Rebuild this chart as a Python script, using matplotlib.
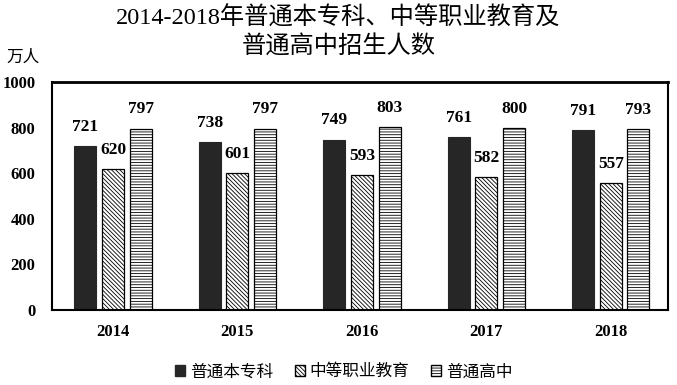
import numpy as np
import matplotlib.pyplot as plt
from matplotlib.patches import Patch

years = ["2014", "2015", "2016", "2017", "2018"]
undergrad = [721, 738, 749, 761, 791]
vocational = [620, 601, 593, 582, 557]
high_school = [797, 797, 803, 800, 793]
series_names = ["普通本专科", "中等职业教育", "普通高中"]
y_ticks = [0, 200, 400, 600, 800, 1000]

cjk = ["Noto Sans CJK SC", "DejaVu Sans"]
serif = ["Liberation Serif", "Noto Sans CJK SC"]
plt.rcParams["hatch.linewidth"] = 0.6

fig = plt.figure(figsize=(6.77, 3.85), dpi=100)
ax = fig.add_axes([0.0768, 0.195, 0.91, 0.591])

x = np.arange(len(years))
w = 0.177
step = 0.222
diag = "\\" * 8
horiz = "-" * 6

b1 = ax.bar(x - step, undergrad, w, color="#262626", edgecolor="#262626", linewidth=0.8)
b2 = ax.bar(x, vocational, w, color="white", edgecolor="black", linewidth=0.9, hatch=diag)
b3 = ax.bar(x + step, high_school, w, color="white", edgecolor="black", linewidth=0.9, hatch=horiz)

for bars, vals in [(b1, undergrad), (b2, vocational), (b3, high_school)]:
    for rect, v in zip(bars, vals):
        ax.annotate(str(v), (rect.get_x() + rect.get_width() / 2, rect.get_height()),
                    xytext=(0, 8), textcoords="offset points", ha="center", va="bottom",
                    fontsize=12.5, fontweight="bold", family=serif)

ax.set_xlim(-0.49, 4.46)
ax.set_ylim(0, 1000)
ax.set_yticks(y_ticks)
ax.set_yticklabels([str(t) for t in y_ticks], fontsize=12, fontweight="bold", family=serif)
ax.set_xticks(x)
ax.set_xticklabels(years, fontsize=12, fontweight="bold", family=serif)
ax.tick_params(axis="y", length=0, pad=12)
ax.tick_params(axis="x", length=0, pad=10)
for s in ax.spines.values():
    s.set_linewidth(1.5)
ax.spines["top"].set_linewidth(2)

fig.text(0.5, 0.952, "2014-2018年普通本专科、中等职业教育及", ha="center", va="center",
         fontsize=17.5, family=serif)
fig.text(0.5, 0.878, "普通高中招生人数", ha="center", va="center", fontsize=17.5, family=serif)
fig.text(0.034, 0.852, "万人", ha="center", va="center", fontsize=12, family=cjk)

handles = [
    Patch(facecolor="#262626", edgecolor="#262626"),
    Patch(facecolor="white", edgecolor="black", hatch=diag),
    Patch(facecolor="white", edgecolor="black", hatch=horiz),
]
fig.legend(handles, series_names, loc="center", bbox_to_anchor=(0.508, 0.034), ncol=3,
           frameon=False, handlelength=0.6, handleheight=0.6, handletextpad=0.3,
           columnspacing=1.3, prop={"family": cjk, "size": 12})

fig.savefig("out.png", dpi=100)
